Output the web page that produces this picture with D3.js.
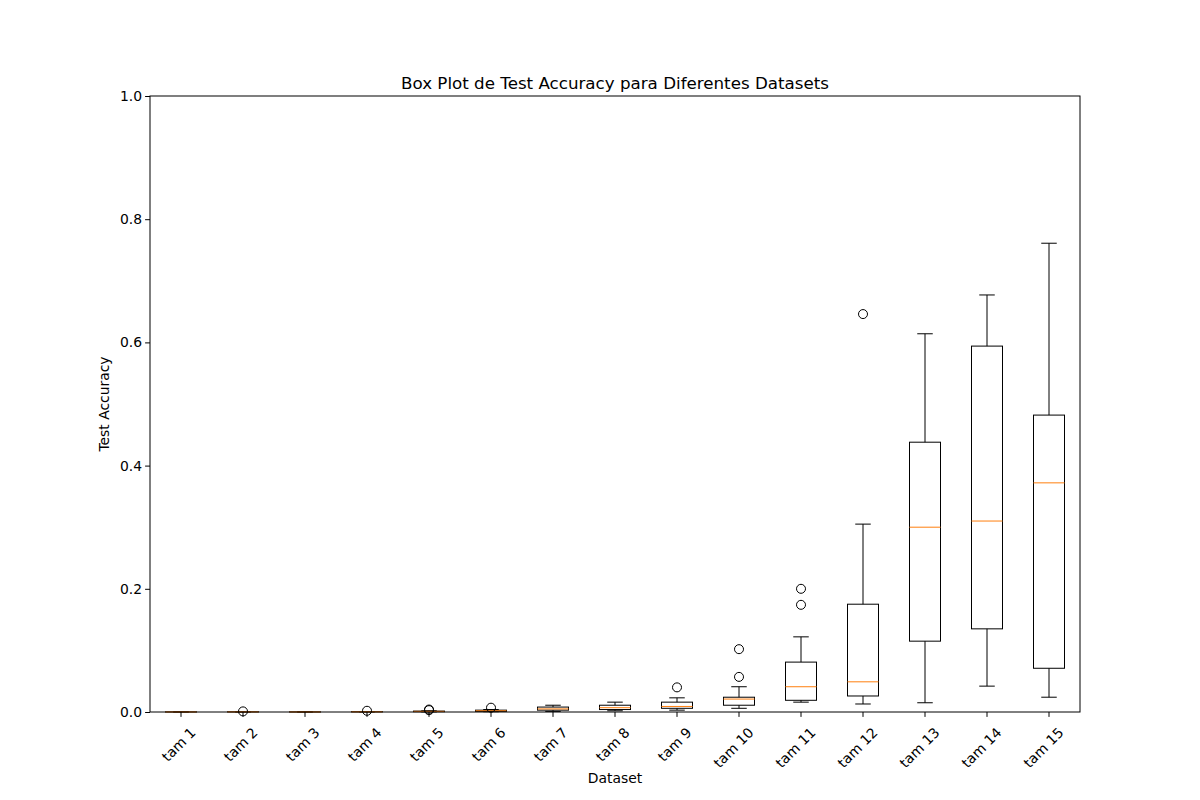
<!DOCTYPE html>
<html><head><meta charset="utf-8">
<script src="https://cdn.jsdelivr.net/npm/d3@7"></script>
<style>body{margin:0;background:#fff}text{font-family:"DejaVu Sans",sans-serif}</style>
</head><body><svg id="c" width="1200" height="800"></svg>
<script>
const categories=["tam 1","tam 2","tam 3","tam 4","tam 5","tam 6","tam 7","tam 8","tam 9","tam 10","tam 11","tam 12","tam 13","tam 14","tam 15"];
const whisLo=[0,0,0,0.0001,0.0002,0.0005,0.001,0.002,0.003,0.006,0.016,0.013,0.015,0.042,0.024];
const q1=[0,0.0001,0,0.0002,0.0005,0.001,0.003,0.004,0.006,0.011,0.019,0.026,0.115,0.135,0.071];
const median=[0.0001,0.0002,0.0001,0.0003,0.001,0.002,0.005,0.007,0.009,0.021,0.041,0.049,0.300,0.310,0.372];
const q3=[0.0002,0.0003,0.0002,0.0005,0.0015,0.003,0.008,0.011,0.016,0.024,0.081,0.175,0.438,0.594,0.482];
const whisHi=[0.0003,0.0005,0.0003,0.0007,0.002,0.004,0.011,0.016,0.023,0.041,0.122,0.305,0.614,0.677,0.761];
const outliers=[[],[0.001],[],[0.002],[0.003,0.004],[0.007],[],[],[0.040],[0.057,0.102],[0.174,0.200],[0.646],[],[],[]];
const yTicks=[0,0.2,0.4,0.6,0.8,1.0];

const svg=d3.select("#c");
const L=150,R=1080,T=96,B=712;
const x=d3.scaleBand().domain(categories).range([L,R]).paddingInner(0.5).paddingOuter(0.25);
const y=d3.scaleLinear().domain([0,1]).range([B,T]);
const g=svg.append("g");
categories.forEach((c,i)=>{
  const cx=x(c)+x.bandwidth()/2, bw=x.bandwidth(), cw=bw/2;
  g.append("line").attr("x1",cx).attr("x2",cx).attr("y1",y(whisLo[i])).attr("y2",y(q1[i])).attr("stroke","#000");
  g.append("line").attr("x1",cx).attr("x2",cx).attr("y1",y(q3[i])).attr("y2",y(whisHi[i])).attr("stroke","#000");
  [whisLo[i],whisHi[i]].forEach(v=>g.append("line").attr("x1",cx-cw/2).attr("x2",cx+cw/2).attr("y1",y(v)).attr("y2",y(v)).attr("stroke","#000"));
  g.append("rect").attr("x",x(c)).attr("width",bw).attr("y",y(q3[i])).attr("height",Math.max(0,y(q1[i])-y(q3[i]))).attr("fill","none").attr("stroke","#000");
  g.append("line").attr("x1",x(c)).attr("x2",x(c)+bw).attr("y1",y(median[i])).attr("y2",y(median[i])).attr("stroke","#ff7f0e");
  outliers[i].forEach(v=>g.append("circle").attr("cx",cx).attr("cy",y(v)).attr("r",4.5).attr("fill","none").attr("stroke","#000"));
});
svg.append("rect").attr("x",L).attr("y",T).attr("width",R-L).attr("height",B-T).attr("fill","none").attr("stroke","#000");
const ya=svg.append("g").attr("transform",`translate(${L},0)`).call(d3.axisLeft(y).tickValues(yTicks).tickFormat(d3.format(".1f")).tickSize(4.9).tickSizeOuter(0));
ya.select(".domain").remove();
ya.selectAll("text").attr("font-size","13.9px").attr("font-family","DejaVu Sans");
const xa=svg.append("g").attr("transform",`translate(0,${B})`).call(d3.axisBottom(x).tickSize(4.9).tickSizeOuter(0));
xa.select(".domain").remove();
xa.selectAll("text").attr("font-size","13.9px").attr("font-family","DejaVu Sans").attr("text-anchor","end").attr("dy","0").attr("transform","translate(10,16) rotate(-45)");
svg.append("text").attr("x",(L+R)/2).attr("y",89).attr("text-anchor","middle").attr("font-size","16.7px").text("Box Plot de Test Accuracy para Diferentes Datasets");
svg.append("text").attr("x",(L+R)/2).attr("y",783).attr("text-anchor","middle").attr("font-size","13.9px").text("Dataset");
svg.append("text").attr("transform",`translate(109,${(T+B)/2}) rotate(-90)`).attr("text-anchor","middle").attr("font-size","13.9px").text("Test Accuracy");
</script></body></html>
